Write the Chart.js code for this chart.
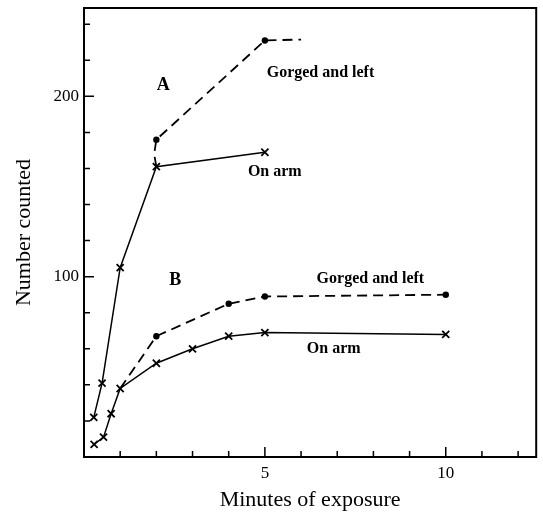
<!DOCTYPE html>
<html><head><meta charset="utf-8">
<script src="https://cdn.jsdelivr.net/npm/chart.js@4.4.1/dist/chart.umd.min.js"></script>
<style>html,body{margin:0;padding:0;background:#fff;} canvas{display:block;}</style>
</head><body>
<canvas id="c" width="543" height="514"></canvas>
<script>
// ---- data ----
const aOnArmX = [0.27, 0.5, 1, 2, 5];
const aOnArmY = [22, 41, 105, 161, 169];
const aGorgedX = [2, 1.94, 2, 5, 6];
const aGorgedY = [161, 168, 176, 231, 231.5];
const aGorgedMarked = [false, false, true, true, false];
const bOnArmX = [0.28, 0.54, 0.75, 1, 2, 3, 4, 5, 10];
const bOnArmY = [7, 11, 24, 38, 52, 60, 67, 69, 68];
const bGorgedX = [1, 2, 4, 5, 10];
const bGorgedY = [38, 67, 85, 89, 90];
const bGorgedMarked = [false, true, true, true, true];
const xTickLabels = [5, 10];
const yTickLabels = [100, 200];
const xMinorTicks = [1, 2, 3, 4, 5, 6, 7, 8, 9, 10, 11, 12];
const yMinorTicks = [20, 40, 60, 80, 100, 120, 140, 160, 180, 200, 220, 240];
const noteTexts = ['A', 'B', 'Gorged and left', 'On arm', 'Gorged and left', 'On arm'];
const noteX = [2.19, 2.52, 5.05, 4.53, 6.43, 6.16];
const noteY = [206, 98, 213, 158, 99, 60];

const FAM = '"Liberation Serif", "DejaVu Serif", serif';
const pts = (xs, ys) => xs.map((v, i) => ({x: v, y: ys[i]}));

const decor = {
  id: 'decor',
  afterDatasetsDraw(chart) {
    const {ctx, chartArea: a, scales: {x, y}} = chart;
    ctx.save();
    ctx.strokeStyle = '#000';
    ctx.lineWidth = 2;
    ctx.strokeRect(a.left, a.top, a.right - a.left, a.bottom - a.top);
    ctx.lineWidth = 1.5;
    ctx.beginPath();
    xMinorTicks.forEach(v => {
      const px = x.getPixelForValue(v);
      const len = xTickLabels.includes(v) ? 10 : 6;
      ctx.moveTo(px, a.bottom); ctx.lineTo(px, a.bottom - len);
    });
    yMinorTicks.forEach(v => {
      const py = y.getPixelForValue(v);
      const len = yTickLabels.includes(v) ? 10 : 6;
      ctx.moveTo(a.left, py); ctx.lineTo(a.left + len, py);
    });
    ctx.stroke();
    ctx.fillStyle = '#000';
    ctx.textBaseline = 'middle';
    noteTexts.forEach((t, i) => {
      const big = t.length === 1;
      ctx.font = 'bold ' + (big ? 18 : 16) + 'px ' + FAM;
      ctx.textAlign = big ? 'center' : 'left';
      ctx.fillText(t, x.getPixelForValue(noteX[i]), y.getPixelForValue(noteY[i]));
    });
    ctx.restore();
  }
};

new Chart(document.getElementById('c'), {
  type: 'scatter',
  data: {
    datasets: [
      {data: pts(aOnArmX, aOnArmY), showLine: true, borderColor: '#000', backgroundColor: '#000',
       borderWidth: 1.5, pointStyle: 'crossRot', pointRadius: 5, pointBorderWidth: 1.8},
      {data: pts(aGorgedX, aGorgedY), showLine: true, borderColor: '#000', backgroundColor: '#000',
       borderWidth: 1.8, borderDash: [10, 6], pointStyle: 'circle',
       pointRadius: aGorgedMarked.map(m => m ? 3.2 : 0), pointBorderWidth: 0},
      {data: pts(bOnArmX, bOnArmY), showLine: true, borderColor: '#000', backgroundColor: '#000',
       borderWidth: 1.5, pointStyle: 'crossRot', pointRadius: 5, pointBorderWidth: 1.8},
      {data: pts(bGorgedX, bGorgedY), showLine: true, borderColor: '#000', backgroundColor: '#000',
       borderWidth: 1.8, borderDash: [10, 6], pointStyle: 'circle',
       pointRadius: bGorgedMarked.map(m => m ? 3.2 : 0), pointBorderWidth: 0}
    ]
  },
  options: {
    responsive: false,
    devicePixelRatio: 1,
    animation: false,
    layout: {padding: {left: 0, top: 8, right: 6, bottom: 0}},
    plugins: {legend: {display: false}, tooltip: {enabled: false}},
    elements: {line: {tension: 0}},
    scales: {
      x: {
        type: 'linear', min: 0, max: 12.5,
        grid: {display: false, drawTicks: false}, border: {display: false},
        afterBuildTicks: s => { s.ticks = xTickLabels.map(v => ({value: v})); },
        afterFit: s => { s.height = 57; s.paddingLeft = 0; s.paddingRight = 0; },
        ticks: {color: '#000', font: {family: FAM, size: 17}, padding: 6, maxRotation: 0, autoSkip: false},
        title: {display: true, text: 'Minutes of exposure', color: '#000',
                font: {family: FAM, size: 22}, padding: {top: 0, bottom: 1}}
      },
      y: {
        type: 'linear', min: 0, max: 249,
        grid: {display: false, drawTicks: false}, border: {display: false},
        afterBuildTicks: s => { s.ticks = yTickLabels.map(v => ({value: v})); },
        afterFit: s => { s.width = 84; s.paddingTop = 0; s.paddingBottom = 0; },
        ticks: {color: '#000', font: {family: FAM, size: 17}, padding: 5, autoSkip: false},
        title: {display: true, text: 'Number counted', color: '#000',
                font: {family: FAM, size: 22}, padding: {top: 11, bottom: 0}}
      }
    }
  },
  plugins: [decor]
});
</script>
</body></html>
